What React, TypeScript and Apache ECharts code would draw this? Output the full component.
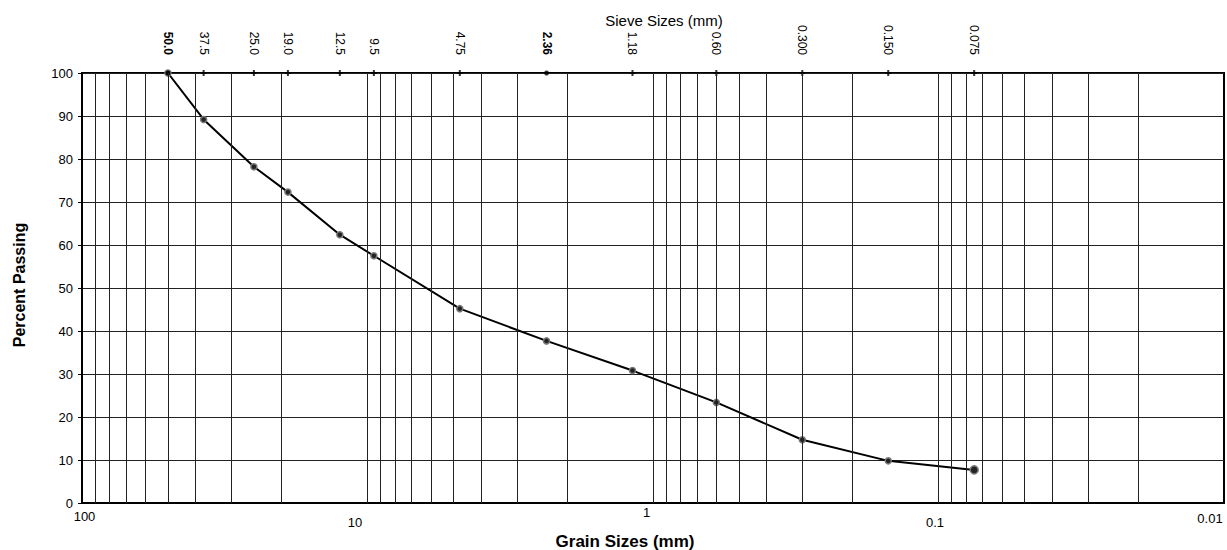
import React, { useEffect, useRef } from "react";
import * as echarts from "echarts";

const sieveSizes = [50.0, 37.5, 25.0, 19.0, 12.5, 9.5, 4.75, 2.36, 1.18, 0.6, 0.3, 0.15, 0.075];
const sieveLabels = ["50.0", "37.5", "25.0", "19.0", "12.5", "9.5", "4.75", "2.36", "1.18", "0.60", "0.300", "0.150", "0.075"];
const boldSieveLabels = ["50.0", "2.36"];
const percentPassing = [100, 89.2, 78.2, 72.3, 62.4, 57.5, 45.2, 37.7, 30.8, 23.4, 14.7, 9.8, 7.7];

const grainTickValues = [100, 10, 1, 0.1, 0.01];
const grainTickLabels = ["100", "10", "1", "0.1", "0.01"];
const gridDecades = [0.01, 0.1, 1, 10];
const gridMultipliers = [1, 2, 3, 4, 5, 6, 7, 8, 9];

const FONT = "'Liberation Sans', Arial, sans-serif";

// per-label nudges to mimic the reference's staggered bottom labels
const bottomLabelStyles: Record<string, any> = {
  l0: { padding: [4, 0, 0, 5] },
  l1: { padding: [10, 25, 0, 0] },
  l2: { padding: [0, 13, 0, 0] },
  l3: { padding: [10, 7, 0, 0] },
  l4: { padding: [6, 28, 0, 0] },
};

export default function App() {
  const ref = useRef<HTMLDivElement>(null);
  useEffect(() => {
    if (!ref.current) return;
    const chart = echarts.init(ref.current, undefined, { renderer: "svg" });

    const gridLineValues: number[] = [];
    gridDecades.forEach((d) =>
      gridMultipliers.forEach((m) => {
        const v = +(d * m).toPrecision(6);
        if (v > 0.01 && v < 100) gridLineValues.push(v);
      })
    );

    const findIdx = (v: number, arr: number[]) =>
      arr.findIndex((s) => Math.abs(s - v) / s < 1e-6);

    const option: any = {
      animation: false,
      grid: {
        left: 82,
        right: 3,
        top: 73,
        bottom: 47,
        show: true,
        borderColor: "#000",
        borderWidth: 2,
        backgroundColor: "transparent",
        containLabel: false,
      },
      xAxis: [
        {
          type: "log",
          logBase: 10,
          min: 0.01,
          max: 100,
          inverse: true,
          position: "bottom",
          axisLine: { show: true, lineStyle: { color: "#000", width: 2 } },
          axisTick: { show: false },
          splitLine: { show: false },
          minorTick: { show: false },
          axisLabel: {
            customValues: grainTickValues,
            color: "#000",
            fontFamily: FONT,
            fontSize: 13,
            margin: 3,
            formatter: (v: number) => {
              const i = findIdx(v, grainTickValues);
              return i >= 0 ? `{l${i}|${grainTickLabels[i]}}` : "";
            },
            rich: bottomLabelStyles,
          },
        },
        {
          type: "log",
          logBase: 10,
          min: 0.01,
          max: 100,
          inverse: true,
          position: "top",
          axisLine: { show: false },
          axisTick: { show: false },
          splitLine: { show: false },
          axisLabel: {
            customValues: sieveSizes,
            rotate: 90,
            margin: 18,
            color: "#000",
            fontFamily: FONT,
            fontSize: 12,
            formatter: (v: number) => {
              const i = findIdx(v, sieveSizes);
              if (i < 0) return "";
              const t = sieveLabels[i];
              return boldSieveLabels.includes(t) ? `{b|${t}}` : `{n|${t}}`;
            },
            rich: {
              b: { fontWeight: "bold", fontSize: 12, fontFamily: FONT, color: "#000" },
              n: { fontSize: 12, fontFamily: FONT, color: "#000" },
            },
          },
        },
      ],
      yAxis: {
        type: "value",
        min: 0,
        max: 100,
        interval: 10,
        axisLine: { show: true, lineStyle: { color: "#000", width: 2 } },
        axisTick: { show: true, length: 4, lineStyle: { color: "#000", width: 1 } },
        axisLabel: { color: "#000", fontFamily: FONT, fontSize: 13, margin: 9 },
        splitLine: { show: true, lineStyle: { color: "#222", width: 1 } },
      },
      series: [
        {
          name: "grid",
          type: "line",
          xAxisIndex: 0,
          yAxisIndex: 0,
          data: [],
          silent: true,
          z: 1,
          markLine: {
            silent: true,
            symbol: ["none", "none"],
            label: { show: false },
            emphasis: { disabled: true },
            lineStyle: { type: "solid", color: "#222", width: 1 },
            data: gridLineValues.map((v) => ({ xAxis: v })),
          },
        },
        {
          name: "Percent Passing",
          type: "line",
          xAxisIndex: 0,
          yAxisIndex: 0,
          z: 3,
          data: sieveSizes.map((s, i) => ({
            value: [s, percentPassing[i]],
            symbolSize: i === sieveSizes.length - 1 ? 8 : 6,
          })),
          lineStyle: { color: "#000", width: 2 },
          symbol: "circle",
          symbolSize: 6,
          itemStyle: { color: "#222", borderColor: "#777", borderWidth: 1.5 },
          emphasis: { disabled: true },
        },
        {
          name: "sieves",
          type: "scatter",
          xAxisIndex: 0,
          yAxisIndex: 0,
          z: 4,
          silent: true,
          data: sieveSizes.map((s, i) => {
            const bold = boldSieveLabels.includes(sieveLabels[i]);
            return {
              value: [s, 100],
              symbol: bold ? "circle" : "path://M2,0H4V2H6V4H4V6H2V4H0V2H2Z",
              symbolSize: bold ? 5 : 6,
            };
          }),
          itemStyle: { color: "#000" },
          emphasis: { disabled: true },
        },
      ],
      graphic: [
        {
          type: "text",
          x: 664,
          y: 20,
          style: {
            text: "Sieve Sizes (mm)",
            fontFamily: FONT,
            fontSize: 15,
            fill: "#000",
            textAlign: "center",
            textVerticalAlign: "middle",
          },
        },
        {
          type: "text",
          x: 625,
          y: 541,
          style: {
            text: "Grain Sizes (mm)",
            fontFamily: FONT,
            fontSize: 17,
            fontWeight: "bold",
            fill: "#000",
            textAlign: "center",
            textVerticalAlign: "middle",
          },
        },
        {
          type: "text",
          x: 19,
          y: 285,
          rotation: Math.PI / 2,
          style: {
            text: "Percent Passing",
            fontFamily: FONT,
            fontSize: 16,
            fontWeight: "bold",
            fill: "#000",
            textAlign: "center",
            textVerticalAlign: "middle",
          },
        },
      ],
    };

    chart.setOption(option);
    return () => chart.dispose();
  }, []);

  return (
    <div
      ref={ref}
      style={{ position: "fixed", left: 0, top: 0, width: 1227, height: 550, background: "#fff" }}
    />
  );
}
